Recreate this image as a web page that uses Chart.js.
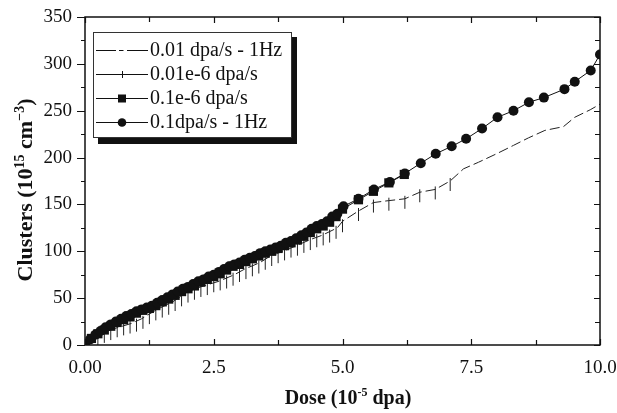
<!DOCTYPE html>
<html>
<head>
<meta charset="utf-8">
<script src="https://cdn.jsdelivr.net/npm/chart.js@4.4.0/dist/chart.umd.min.js"></script>
<style>
  html, body { margin: 0; padding: 0; background: #fff; }
  #wrap { width: 617px; height: 413px; position: relative; }
</style>
</head>
<body>
<div id="wrap"><canvas id="canvas"></canvas></div>
<script>
  // series names, as in the legend
  const seriesNames = ['0.01 dpa/s - 1Hz', '0.01e-6 dpa/s', '0.1e-6 dpa/s', '0.1dpa/s - 1Hz'];

  // 0.01 dpa/s - 1Hz  (dashed line)
  const doseA = [0, 0.3, 0.6, 0.9, 1.1, 1.4, 1.7, 2.0, 2.3, 2.6, 2.9, 3.1, 3.4, 3.6, 3.9, 4.1, 4.4, 4.6, 4.9, 5.0,
                 5.31, 5.6, 5.89, 6.21, 6.5, 6.8, 7.09, 7.35, 7.64, 7.99, 8.32, 8.61, 8.93, 9.29, 9.51, 9.81, 10.0];
  const clustA = [0, 12, 18, 23, 28, 38, 46, 57, 63, 68, 75, 81, 88, 95, 101, 106, 113, 117, 125, 132,
                  143, 152, 154, 156, 163, 166, 175, 188, 195, 204, 213, 221, 229, 233, 243, 251, 257];

  // 0.01e-6 dpa/s  (vertical tick marks)
  const doseB = [0.25, 0.375, 0.5, 0.625, 0.75, 0.875, 1.0, 1.125, 1.25, 1.375, 1.5, 1.625, 1.75, 1.875, 2.0,
                 2.125, 2.25, 2.375, 2.5, 2.625, 2.75, 2.875, 3.0, 3.125, 3.25, 3.375, 3.5, 3.625, 3.75, 3.875,
                 4.0, 4.125, 4.25, 4.375, 4.5, 4.625, 4.75, 4.875, 5.0, 5.31, 5.6, 5.9, 6.21, 6.5, 6.8, 7.09];
  const clustB = [10, 13, 16, 19, 21, 23, 25, 28, 33, 37, 40, 43, 47, 52, 56,
                  59, 62, 64, 67, 69, 71, 74, 78, 81, 84, 87, 91, 95, 98, 101,
                  104, 106, 109, 112, 115, 117, 120, 124, 131, 143, 152, 154, 156, 163, 166, 175];

  // 0.1e-6 dpa/s  (squares)
  const doseC = [0, 0.125, 0.25, 0.375, 0.5, 0.625, 0.75, 0.875, 1.0, 1.125, 1.25, 1.375, 1.5, 1.625, 1.75, 1.875,
                 2.0, 2.125, 2.25, 2.375, 2.5, 2.625, 2.75, 2.875, 3.0, 3.125, 3.25, 3.375, 3.5, 3.625, 3.75, 3.875,
                 4.0, 4.125, 4.25, 4.375, 4.5, 4.625, 4.75, 4.875, 5.0, 5.31, 5.6, 5.9, 6.2];
  const clustC = [0, 7, 12, 16, 20, 24, 27, 30, 34, 37, 39, 42, 46, 49, 53, 57,
                  60, 63, 67, 70, 73, 76, 80, 84, 86, 89, 92, 95, 98, 100, 103, 106,
                  109, 112, 116, 120, 124, 127, 131, 137, 145, 155, 164, 173, 182];

  // 0.1dpa/s - 1Hz  (circles)
  const doseD = [0, 0.1, 0.2, 0.3, 0.4, 0.5, 0.6, 0.7, 0.8, 0.9, 1.0, 1.1, 1.2, 1.3, 1.4, 1.5, 1.6, 1.7, 1.8, 1.9,
                 2.0, 2.1, 2.2, 2.3, 2.4, 2.5, 2.6, 2.7, 2.8, 2.9, 3.0, 3.1, 3.2, 3.3, 3.4, 3.5, 3.6, 3.7, 3.8, 3.9,
                 4.0, 4.1, 4.2, 4.3, 4.4, 4.5, 4.6, 4.7, 4.8, 4.9,
                 5.02, 5.31, 5.61, 5.92, 6.21, 6.52, 6.81, 7.12, 7.40, 7.71, 8.01, 8.32, 8.62, 8.91, 9.31, 9.51, 9.82, 10.0];
  const clustD = [0, 6, 11, 15, 19, 22, 25, 28, 31, 33, 36, 38, 40, 42, 45, 48, 51, 54, 57, 60,
                  62, 65, 68, 70, 73, 75, 78, 81, 84, 86, 88, 91, 93, 95, 98, 100, 102, 104, 106, 109,
                  111, 114, 117, 120, 124, 127, 129, 132, 137, 140,
                  148, 156, 166, 174, 183, 194, 204, 212, 220, 231, 243, 250, 259, 264, 273, 281, 293, 310];

  const doseTickLabels = ['0.00', '2.5', '5.0', '7.5', '10.0'];

  const serif = "'Liberation Serif', 'Times New Roman', serif";

  function pts(xs, ys) {
    return xs.map(function(x, i) { return {x: x, y: ys[i]}; });
  }

  // little vertical tick hanging under the point
  function tickMark() {
    const c = document.createElement('canvas');
    c.width = 3; c.height = 26;
    const g = c.getContext('2d');
    g.strokeStyle = '#222'; g.lineWidth = 1;
    g.beginPath(); g.moveTo(1.5, 10); g.lineTo(1.5, 23); g.stroke();
    return c;
  }

  // box, ticks (left outside, others inside)
  const framePlugin = {
    id: 'frame',
    afterDatasetsDraw(chart) {
      const {ctx, chartArea: a, scales: {x, y}} = chart;
      ctx.save();
      ctx.strokeStyle = '#111';
      ctx.lineWidth = 1.5;
      ctx.strokeRect(a.left, a.top, a.right - a.left, a.bottom - a.top);
      ctx.lineWidth = 1.2;
      ctx.beginPath();
      for (let v = 0; v <= 350; v += 25) {
        const py = Math.round(y.getPixelForValue(v)) + 0.5;
        const major = v % 50 === 0;
        ctx.moveTo(a.left - (major ? 8 : 4), py); ctx.lineTo(a.left, py);
        ctx.moveTo(a.right, py); ctx.lineTo(a.right - (major ? 6 : 5), py);
      }
      for (let v = 0; v <= 10; v += 1.25) {
        const px = Math.round(x.getPixelForValue(v)) + 0.5;
        const major = (v / 1.25) % 2 === 0;
        ctx.moveTo(px, a.bottom); ctx.lineTo(px, a.bottom - (major ? 6 : 5));
        ctx.moveTo(px, a.top); ctx.lineTo(px, a.top + (major ? 6 : 5));
      }
      ctx.stroke();
      ctx.restore();
    }
  };

  function richWidth(ctx, parts, size) {
    let w = 0;
    parts.forEach(function(p) {
      ctx.font = 'bold ' + (p.sup ? Math.round(size * 0.62) : size) + 'px ' + serif;
      w += ctx.measureText(p.t).width;
    });
    return w;
  }
  function richText(ctx, parts, size) {
    let cx = -richWidth(ctx, parts, size) / 2;
    parts.forEach(function(p) {
      ctx.font = 'bold ' + (p.sup ? Math.round(size * 0.62) : size) + 'px ' + serif;
      ctx.fillText(p.t, cx, p.sup ? -size * 0.38 : 0);
      cx += ctx.measureText(p.t).width;
    });
  }

  const titlePlugin = {
    id: 'titles',
    afterDraw(chart) {
      const ctx = chart.ctx;
      ctx.save();
      ctx.fillStyle = '#111';
      ctx.textAlign = 'left';
      ctx.textBaseline = 'alphabetic';
      ctx.translate(348, 404);
      richText(ctx, [{t: 'Dose (10'}, {t: '-5', sup: true}, {t: ' dpa)'}], 20);
      ctx.restore();

      ctx.save();
      ctx.fillStyle = '#111';
      ctx.textAlign = 'left';
      ctx.textBaseline = 'alphabetic';
      ctx.translate(32, 190);
      ctx.rotate(-Math.PI / 2);
      richText(ctx, [{t: 'Clusters (10'}, {t: '15', sup: true}, {t: ' cm'}, {t: '\u22123', sup: true}, {t: ')'}], 22);
      ctx.restore();
    }
  };

  const legendPlugin = {
    id: 'boxLegend',
    afterDraw(chart) {
      const ctx = chart.ctx;
      const L = 93, T = 32, R = 292, B = 138;
      ctx.save();
      ctx.fillStyle = '#111';
      ctx.fillRect(L + 5, T + 5, R - L, B - T + 1);
      ctx.fillStyle = '#fff';
      ctx.fillRect(L, T, R - L, B - T);
      ctx.strokeStyle = '#333';
      ctx.lineWidth = 1;
      ctx.strokeRect(L + 0.5, T + 0.5, R - L - 1, B - T - 1);

      ctx.strokeStyle = '#111';
      ctx.fillStyle = '#111';
      ctx.font = '20px ' + serif;
      ctx.textBaseline = 'middle';
      ctx.textAlign = 'left';
      const rows = [50, 74, 98, 122];
      rows.forEach(function(ry, i) {
        const yy = ry + 0.5;
        ctx.lineWidth = 1;
        ctx.beginPath();
        if (i === 0) {
          ctx.moveTo(96, yy); ctx.lineTo(116, yy);
          ctx.moveTo(119, yy); ctx.lineTo(123.5, yy);
          ctx.moveTo(127, yy); ctx.lineTo(148, yy);
        } else {
          ctx.moveTo(96, yy); ctx.lineTo(148, yy);
        }
        ctx.stroke();
        if (i === 1) {
          ctx.beginPath(); ctx.moveTo(122.5, ry - 3); ctx.lineTo(122.5, ry + 4); ctx.stroke();
        } else if (i === 2) {
          ctx.fillRect(118, ry - 3.5, 8, 8);
        } else if (i === 3) {
          ctx.beginPath(); ctx.arc(122, yy, 4.3, 0, Math.PI * 2); ctx.fill();
        }
        ctx.fillText(seriesNames[i], 150, ry + 1);
      });
      ctx.restore();
    }
  };

  const data = {
    datasets: [
      {
        label: seriesNames[3], data: pts(doseD, clustD), order: 0,
        showLine: true, borderColor: '#111', borderWidth: 1,
        pointStyle: 'circle', pointRadius: 5, pointBackgroundColor: '#111', pointBorderWidth: 0
      },
      {
        label: seriesNames[2], data: pts(doseC, clustC), order: 1,
        showLine: true, borderColor: '#111', borderWidth: 1,
        pointStyle: 'rect', pointRadius: 6.5, pointBackgroundColor: '#111', pointBorderWidth: 0
      },
      {
        label: seriesNames[1], data: pts(doseB, clustB), order: 2,
        showLine: false, pointStyle: tickMark(), pointRadius: 6
      },
      {
        label: seriesNames[0], data: pts(doseA, clustA), order: 3,
        showLine: true, borderColor: '#222', borderWidth: 1, borderDash: [10, 4],
        pointRadius: 0
      }
    ]
  };

  // tick marks of the scales are invisible; they only hold the label offset
  const options = {
    responsive: true,
    maintainAspectRatio: false,
    animation: false,
    events: [],
    layout: { padding: { top: 17, right: 17, left: 0, bottom: 0 } },
    plugins: { legend: { display: false }, tooltip: { enabled: false } },
    scales: {
      x: {
        type: 'linear', min: 0, max: 10,
        grid: { drawOnChartArea: false, color: 'rgba(0,0,0,0)', tickLength: 12 },
        border: { display: false },
        ticks: {
          stepSize: 2.5, padding: 0, color: '#111', font: { family: serif, size: 19 },
          callback: function(v, i) { return doseTickLabels[i]; }
        },
        afterFit: function(s) { s.height = 68; }
      },
      y: {
        type: 'linear', min: 0, max: 350,
        grid: { drawOnChartArea: false, color: 'rgba(0,0,0,0)', tickLength: 13 },
        border: { display: false },
        ticks: { stepSize: 50, padding: 0, color: '#111', font: { family: serif, size: 19 } },
        afterFit: function(s) { s.width = 85; }
      }
    }
  };

  const ctx = document.getElementById('canvas').getContext('2d');
  const chart = new Chart(ctx, {
    type: 'scatter',
    data: data,
    options: options,
    plugins: [framePlugin, legendPlugin, titlePlugin]
  });
</script>
</body>
</html>
